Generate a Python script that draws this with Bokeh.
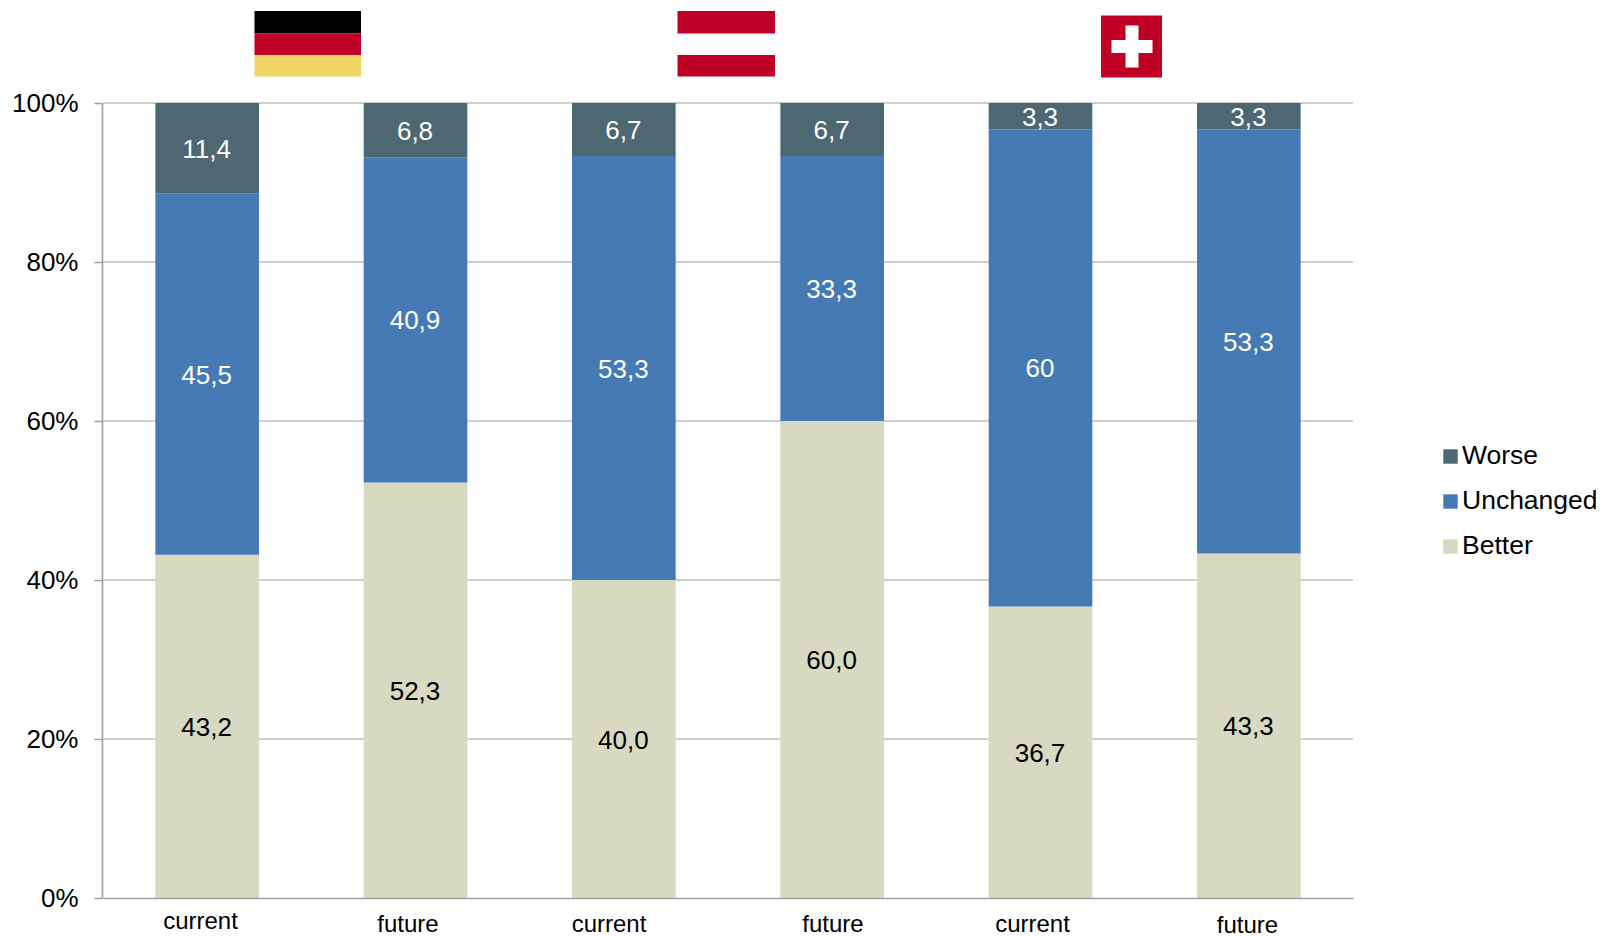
from bokeh.plotting import figure
from bokeh.models import ColumnDataSource, FixedTicker, Legend, LegendItem, LinearAxis
from bokeh.core.properties import value
from bokeh.embed import file_html
from bokeh.resources import INLINE

# ---- data ----
periods = ["current", "future", "current", "future", "current", "future"]
better = [43.18, 52.27, 40.0, 60.0, 36.67, 43.34]
unchanged = [45.46, 40.91, 53.33, 33.33, 60.0, 53.33]
worse = [11.36, 6.82, 6.67, 6.67, 3.33, 3.33]
better_labels = ["43,2", "52,3", "40,0", "60,0", "36,7", "43,3"]
unchanged_labels = ["45,5", "40,9", "53,3", "33,3", "60", "53,3"]
worse_labels = ["11,4", "6,8", "6,7", "6,7", "3,3", "3,3"]
y_ticks = [0, 20, 40, 60, 80, 100]

# ---- layout (page pixels of the reference) ----
W, H = 1600, 936
LEFT, RIGHT, TOP, BOTTOM = 102.5, 1352.5, 102.5, 897.5
FONT = "Liberation Sans"
C_BETTER, C_UNCH, C_WORSE = "#D7D9C1", "#467AB5", "#4E6873"
RED, BLACK, GOLD = "#BF0026", "#000000", "#F0D666"
GRID, AXIS = "#BEBEBE", "#A0A0A0"
# centre x, centre y of each free-standing period label
period_label_px = [(200, 920), (407.5, 922.5), (608.5, 922.5), (832.5, 922.5), (1032, 922.5), (1247, 923.5)]

n = len(periods)
ux = (RIGHT - LEFT) / n
uy = (BOTTOM - TOP) / 100
dx = lambda px: (px - LEFT) / ux - 0.5
dy = lambda py: (BOTTOM - py) / uy

p = figure(width=W, height=H, output_backend="svg", toolbar_location=None, tools="",
           x_range=(dx(102), dx(W)), y_range=(dy(H), dy(0)),
           x_axis_location=None, y_axis_location="left",
           min_border_left=102, min_border_right=0, min_border_top=0, min_border_bottom=0,
           background_fill_color=None, border_fill_color="white",
           outline_line_color=None,
           styles={"position": "absolute", "left": "0", "top": "0"})
p.grid.visible = False

# gridlines
p.segment(x0=[-0.5] * len(y_ticks[1:]), x1=[n - 0.5] * len(y_ticks[1:]),
          y0=y_ticks[1:], y1=y_ticks[1:], line_color=GRID, line_width=1.6)

# stacked bars
xs = list(range(n))
src = ColumnDataSource(dict(x=xs, Better=better, Unchanged=unchanged, Worse=worse))
rs = p.vbar_stack(["Better", "Unchanged", "Worse"], x="x", width=0.4975, source=src,
                  color=[C_BETTER, C_UNCH, C_WORSE], line_color=None)

# value labels
base_u = better
base_w = [a + b for a, b in zip(better, unchanged)]
ymid = [b / 2 for b in better] + [a + b / 2 for a, b in zip(base_u, unchanged)] + \
       [a + b / 2 for a, b in zip(base_w, worse)]
lab_src = ColumnDataSource(dict(
    x=xs * 3, y=ymid,
    t=better_labels + unchanged_labels + worse_labels,
    c=["#000000"] * n + ["#FFFFFF"] * (2 * n)))
p.text(x="x", y="y", text="t", text_color="c", source=lab_src, text_align="center",
       text_baseline="middle", x_offset=-0.5, y_offset=0.5, text_font=value(FONT), text_font_size="26px")

# period labels (free-standing in the reference)
p.text(x=[dx(a) for a, _ in period_label_px], y=[dy(b) for _, b in period_label_px],
       text=periods, text_align="center", text_baseline="middle", text_color="#000000",
       text_font=value(FONT), text_font_size="24px")

# flags
def box(x0, x1, y0, y1, c):
    p.quad(left=[dx(x0)], right=[dx(x1)], top=[dy(y0)], bottom=[dy(y1)], fill_color=c, line_color=None)

box(254, 360.5, 10.5, 33, BLACK)
box(254, 360.5, 33, 54.5, RED)
box(254, 360.5, 54.5, 76, GOLD)
box(677, 774.5, 10.5, 33, RED)
box(677, 774.5, 54.5, 76, RED)
box(1100.5, 1161.5, 15, 77, RED)
box(1111, 1152, 39.5, 52.5, "#FFFFFF")
box(1125, 1138, 25, 67, "#FFFFFF")

# axes
yax = p.yaxis[0]
yax.ticker = FixedTicker(ticks=y_ticks)
yax.major_label_overrides = {t: f"{t}%" for t in y_ticks}
yax.bounds = (0, 100)
yax.axis_line_color = AXIS
yax.axis_line_width = 1.6
yax.major_tick_line_color = AXIS
yax.major_tick_line_width = 1.6
yax.major_tick_in = 0
yax.major_tick_out = 8
yax.minor_tick_line_color = None
yax.major_label_standoff = 16
yax.major_label_text_font = FONT
yax.major_label_text_font_size = "26px"
yax.major_label_text_color = "#000000"

xax = LinearAxis(fixed_location=0, ticker=FixedTicker(ticks=[]), bounds=(-0.5, n - 0.5))
xax.axis_line_color = AXIS
xax.axis_line_width = 1.6
xax.major_tick_line_color = None
xax.minor_tick_line_color = None
xax.major_label_text_color = None
p.add_layout(xax, "below")

# legend
legend = Legend(items=[LegendItem(label="Worse", renderers=[rs[2]]),
                       LegendItem(label="Unchanged", renderers=[rs[1]]),
                       LegendItem(label="Better", renderers=[rs[0]])],
                location=(1339, 375), orientation="vertical",
                glyph_width=18, glyph_height=18, label_standoff=3,
                label_height=30, spacing=14, padding=0, margin=0,
                border_line_color=None, background_fill_color=None,
                label_text_font=FONT, label_text_font_size="26.5px", label_text_color="#000000")
p.add_layout(legend)

open("out.html", "w").write(file_html(p, INLINE))
